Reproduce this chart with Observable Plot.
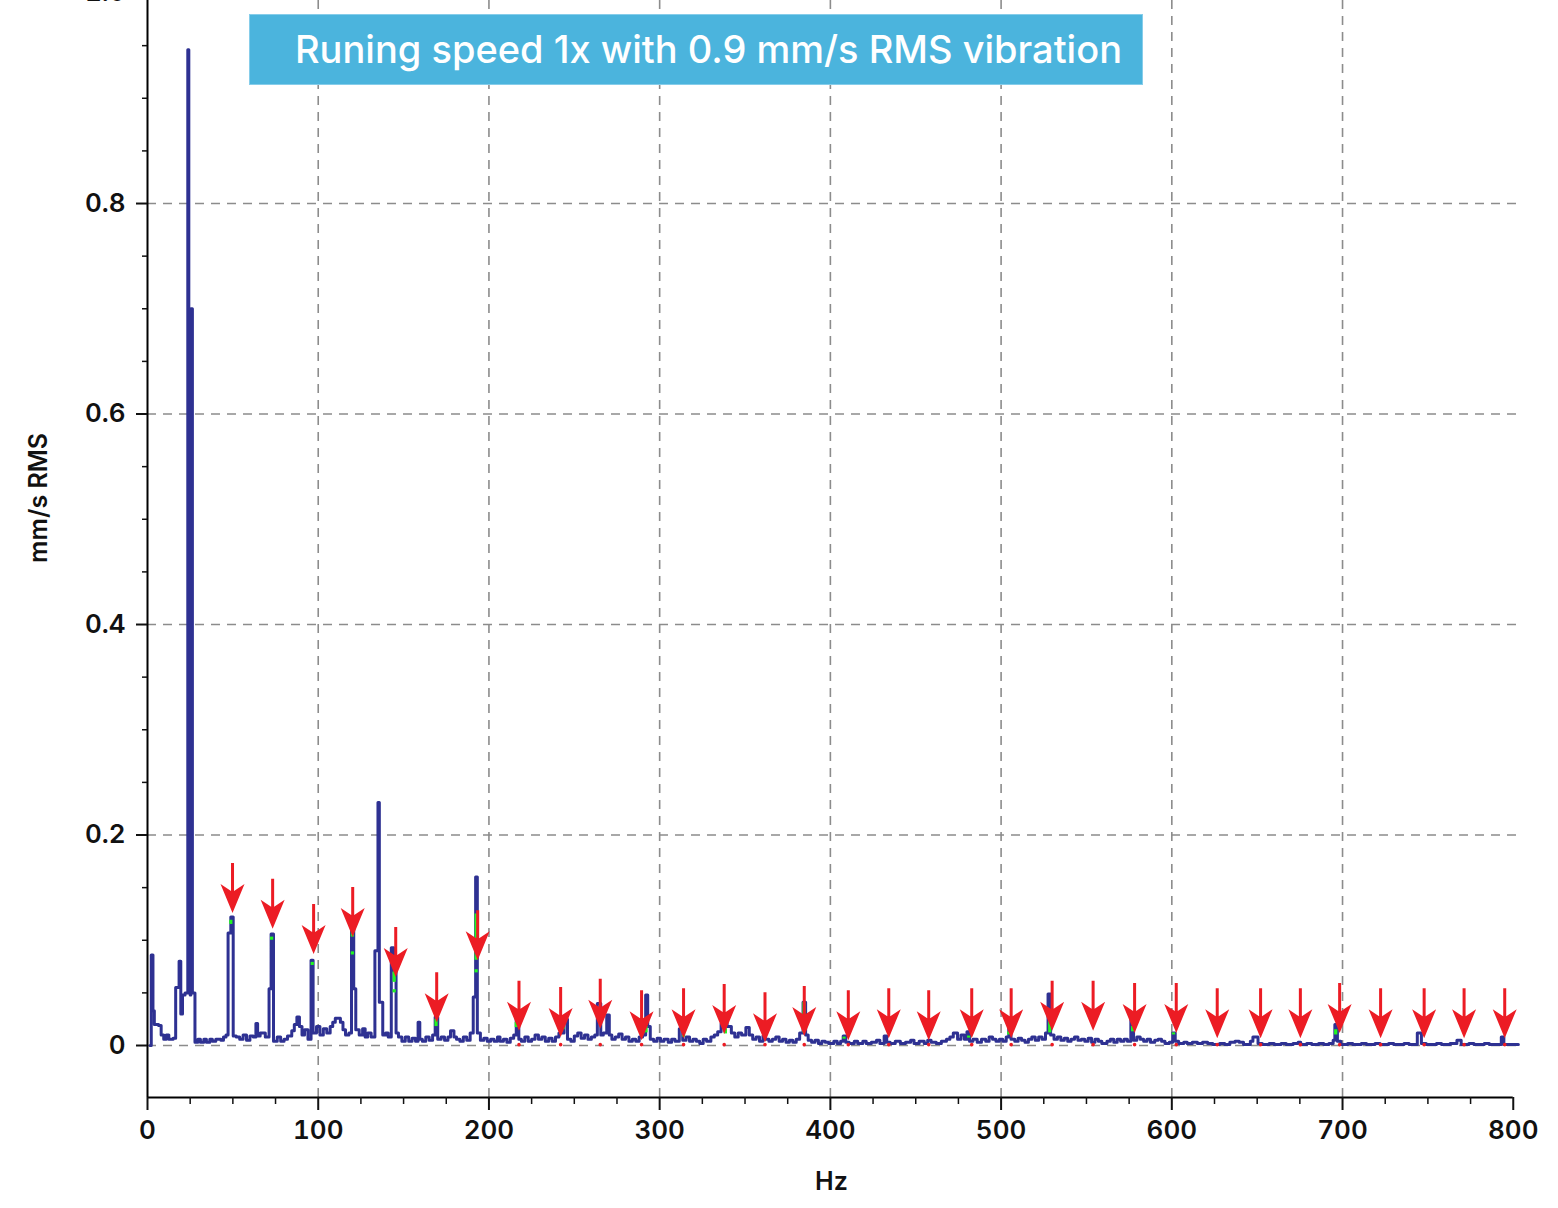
<!DOCTYPE html>
<html>
<head>
<meta charset="utf-8">
<script src="https://cdn.jsdelivr.net/npm/d3@7"></script>
<script src="https://cdn.jsdelivr.net/npm/@observablehq/plot@0.6"></script>
<style>
  body { margin: 0; background: #fff; }
  #wrap { position: relative; width: 1558px; height: 1208px; overflow: hidden; font-family: Inter, "Noto Sans", sans-serif; }
  #title { position: absolute; z-index: 2; left: 249px; top: 14px; width: 894px; height: 71px; box-sizing: border-box;
           background: #4BB4DD; border: 1px solid #86CDEA; color: #fff; font-size: 38px; font-weight: 500;
           line-height: 69px; padding-left: 45px; white-space: nowrap; }
</style>
</head>
<body>
<div id="wrap"><div id="title">Runing speed 1x with 0.9 mm/s RMS vibration</div></div>
<script>
// ---- data ----
// spectrum: [frequency Hz, amplitude mm/s RMS], step-after
const spectrum = [
  [1.5,0.000],[2.2,0.086],[3.2,0.033],[4.0,0.020],[6.5,0.019],[8.0,0.010],[9.5,0.006],[11,0.010],[12.5,0.006],[15,0.007],
  [16.5,0.055],[18.5,0.080],[19.5,0.030],[20.5,0.048],[22,0.050],[23.6,0.946],[24.2,0.700],[25.0,0.048],[25.4,0.700],[26.3,0.050],
  [27.8,0.003],[29.5,0.006],[31,0.003],[33,0.006],[34.5,0.003],[36.5,0.006],[38,0.004],[40,0.006],[43,0.005],[44.5,0.008],
  [46,0.010],[47.2,0.107],[48.8,0.122],[50.2,0.009],[52,0.008],[54,0.006],[56,0.010],[58,0.005],[60,0.009],[62,0.008],
  [63.5,0.021],[64.5,0.009],[66,0.012],[69,0.008],[71.2,0.054],[72.4,0.106],[73.8,0.004],[76,0.008],[78,0.004],[80,0.006],
  [82,0.009],[84.5,0.014],[86,0.020],[87.5,0.027],[89,0.018],[90.5,0.010],[92,0.015],[94,0.006],[95.8,0.081],[97,0.012],
  [99,0.018],[101,0.010],[103,0.016],[105,0.012],[107,0.018],[108.5,0.022],[110,0.026],[113,0.022],[114.5,0.015],[116,0.010],
  [118,0.012],[119.5,0.120],[120.8,0.054],[122,0.015],[124,0.010],[126,0.016],[127.5,0.008],[129,0.012],[131,0.008],[133.2,0.090],
  [135,0.231],[135.8,0.041],[137.8,0.010],[139.5,0.012],[141,0.008],[142.8,0.093],[144.2,0.071],[145.6,0.012],[147,0.008],[149,0.004],
  [151,0.008],[153,0.004],[155,0.007],[157,0.004],[158.5,0.022],[159.5,0.006],[161,0.004],[163,0.008],[165,0.005],[167,0.010],
  [168.5,0.027],[170,0.006],[172,0.008],[174,0.005],[176,0.008],[177.5,0.014],[179.5,0.008],[181,0.006],[183,0.004],[185,0.008],
  [187,0.005],[189,0.012],[190.8,0.046],[192.2,0.160],[193.2,0.012],[195,0.005],[197,0.007],[199,0.004],[201,0.006],[203,0.004],
  [205,0.008],[206.5,0.004],[208.5,0.006],[210.5,0.003],[212.5,0.007],[214.5,0.010],[216,0.033],[217.5,0.006],[219,0.004],[221,0.008],
  [223,0.004],[225,0.006],[227,0.010],[229,0.006],[231,0.008],[233,0.004],[235,0.007],[237,0.004],[239,0.008],[241,0.012],
  [244,0.025],[246,0.006],[248,0.004],[250,0.009],[252,0.012],[254,0.007],[256,0.010],[258,0.006],[260,0.008],[262,0.010],
  [263.5,0.040],[265.5,0.010],[267,0.012],[269,0.029],[270.5,0.010],[272,0.006],[274,0.008],[276,0.011],[278,0.006],[280,0.008],
  [282,0.004],[284,0.006],[286,0.004],[288,0.008],[290,0.010],[291.8,0.048],[293,0.018],[294.5,0.006],[296.5,0.004],[298.5,0.007],
  [300.5,0.004],[302.5,0.006],[305,0.003],[307,0.006],[309,0.004],[311.5,0.016],[313.5,0.005],[315.5,0.008],[317.5,0.004],[319.5,0.006],
  [321.5,0.004],[323.5,0.002],[325.5,0.006],[327.5,0.004],[330,0.008],[332,0.010],[334,0.013],[336,0.021],[339.5,0.018],[342,0.012],
  [344,0.008],[346,0.012],[348,0.010],[350.5,0.017],[352.5,0.010],[354.5,0.006],[356.5,0.008],[358.5,0.004],[360.5,0.009],[362,0.006],
  [364,0.004],[366,0.006],[368,0.008],[370,0.004],[372,0.006],[374,0.003],[376,0.005],[378,0.003],[380,0.006],[382,0.012],
  [384,0.041],[385.5,0.010],[387,0.005],[389,0.003],[391,0.005],[393,0.002],[395,0.004],[397,0.003],[399,0.002],[402,0.004],
  [404,0.002],[406,0.004],[407.5,0.009],[409,0.003],[411,0.002],[414,0.004],[416,0.002],[419,0.004],[421,0.002],[424,0.003],
  [427,0.005],[429,0.002],[431.5,0.009],[433,0.003],[435,0.002],[438,0.004],[441,0.002],[444,0.003],[447,0.005],[449,0.002],
  [452,0.004],[455,0.002],[457,0.005],[459,0.003],[462,0.002],[465,0.004],[468,0.006],[470,0.008],[472,0.012],[474.5,0.006],
  [476.5,0.010],[478.5,0.006],[480,0.013],[481.5,0.004],[483.5,0.006],[486,0.003],[488.5,0.006],[491,0.004],[493,0.008],[495,0.006],
  [497,0.004],[499,0.006],[501,0.004],[503,0.008],[504.5,0.019],[505.8,0.006],[508,0.004],[510,0.007],[512,0.005],[514,0.003],
  [516,0.006],[518,0.008],[520,0.005],[522,0.008],[524,0.006],[526,0.012],[527.5,0.049],[529,0.010],[531,0.006],[533,0.008],
  [535,0.005],[537,0.007],[539,0.004],[541,0.006],[543,0.008],[545,0.005],[547,0.006],[549,0.004],[551,0.007],[553,0.003],
  [555,0.006],[557,0.004],[559,0.002],[562,0.004],[564,0.006],[566,0.003],[568,0.006],[570,0.004],[572,0.006],[574,0.004],
  [576,0.027],[577.6,0.005],[579.5,0.008],[581.5,0.006],[583.5,0.004],[585.5,0.006],[587.5,0.003],[590,0.005],[592,0.006],[594,0.004],
  [596,0.002],[598.5,0.003],[600.5,0.012],[602,0.004],[604,0.002],[607,0.003],[609,0.002],[612,0.003],[615,0.002],[618,0.003],
  [621,0.002],[624,0.001],[628,0.002],[631,0.001],[634,0.003],[637,0.004],[639.5,0.003],[642,0.001],[646,0.004],[647.5,0.008],
  [650.5,0.002],[653,0.001],[657,0.002],[660,0.001],[664,0.002],[667,0.001],[671,0.002],[674,0.003],[675.5,0.001],[679,0.002],
  [682,0.001],[686,0.002],[689,0.001],[692,0.002],[694.5,0.005],[695.5,0.020],[697,0.004],[699,0.001],[703,0.002],[706,0.001],
  [711,0.002],[714,0.001],[719,0.002],[722,0.001],[727,0.002],[730,0.001],[736,0.002],[739,0.001],[743.8,0.012],[746.2,0.002],
  [749,0.001],[755,0.002],[758,0.001],[763,0.002],[767,0.005],[769.5,0.001],[774,0.002],[777,0.001],[783,0.002],[786,0.001],
  [793,0.008],[794.5,0.001],[803,0.001]
];

// harmonic markers (red arrows): frequency and value at the arrow tip
const arrowHz  = [49.8,73.3,97.3,120.2,145.4,169.4,193.4,217.6,242.0,265.2,289.4,314.0,337.8,361.7,384.7,410.5,
                  434.2,457.6,482.8,505.9,529.9,553.9,578.2,602.6,626.6,652.0,675.3,698.3,722.3,747.8,771.2,795.0];
const arrowTip = [0.126,0.111,0.087,0.103,0.065,0.022,0.081,0.014,0.008,0.016,0.005,0.007,0.011,0.003,0.009,0.005,
                  0.007,0.005,0.007,0.007,0.014,0.014,0.012,0.012,0.007,0.007,0.007,0.012,0.007,0.007,0.007,0.007];

// green highlight segments on the spectrum at harmonics
const greenHz   = [48.8,72.7,96.5,120.0,120.0,144.5,144.5,169.0,192.5,192.5,216.0,243.5,265.0,292.0,314.0,338.5,384.5,408.0,481.0,504.5,528.5,577.0,601.0,696.0];
const greenLow  = [0.115,0.100,0.076,0.103,0.086,0.060,0.050,0.018,0.081,0.069,0.017,0.015,0.022,0.012,0.008,0.011,0.012,0.006,0.007,0.010,0.012,0.013,0.010,0.010];
const greenHigh = [0.119,0.103,0.079,0.120,0.089,0.070,0.053,0.025,0.125,0.072,0.022,0.022,0.033,0.018,0.012,0.016,0.041,0.008,0.009,0.013,0.030,0.018,0.012,0.015];

const xMajor = [0,100,200,300,400,500,600,700,800];
const xMinor = [25,50,75,125,150,175,225,250,275,325,350,375,425,450,475,525,550,575,625,650,675,725,750,775];
const xGrid  = [100,200,300,400,500,600,700];
const yMajor = [0,0.2,0.4,0.6,0.8,1.0];
const yMinor = [0.05,0.1,0.15,0.25,0.3,0.35,0.45,0.5,0.55,0.65,0.7,0.75,0.85,0.9,0.95];
const yGrid  = [0,0.2,0.4,0.6,0.8];

const yMin = -0.0494, yTop = 0.9929;
const red = "#EC1C24", navy = "#2E3192", green = "#22F522", gridGray = "#8C8C8C";

const specData = spectrum.map(([f, a]) => ({f, a}));
const arrows = arrowHz.map((f, i) => ({f, tip: arrowTip[i]}));
const greens = greenHz.map((f, i) => ({f, lo: greenLow[i], hi: greenHigh[i]}));
const baseDots = arrows.slice(7).map(d => ({f: d.f, a: 0.0008}));

const arrowShape = {
  draw(context, l, r) {
    const head = 29, notch = 7, stem = 1.5;
    context.moveTo(0, -l);
    context.lineTo(-r, -l + head);
    context.lineTo(-stem, -l + head - notch);
    context.lineTo(-stem, 0);
    context.lineTo(stem, 0);
    context.lineTo(stem, -l + head - notch);
    context.lineTo(r, -l + head);
    context.closePath();
  }
};

const font = "Inter, 'Noto Sans', sans-serif";

const chart = Plot.plot({
  width: 1558,
  height: 1208,
  marginTop: 0,
  marginBottom: 111,
  marginLeft: 147,
  marginRight: 35,
  style: {fontFamily: font, color: "#111", background: "#fff", overflow: "visible"},
  x: {domain: [0, 806], axis: null},
  y: {domain: [yMin, yTop], axis: null},
  marks: [
    Plot.ruleY(yGrid, {x1: 0, x2: 806, stroke: gridGray, strokeWidth: 1.6, strokeDasharray: "9,7"}),
    Plot.ruleX(xGrid, {y1: yMin, y2: yTop, stroke: gridGray, strokeWidth: 1.6, strokeDasharray: "9,7"}),
    Plot.line(specData, {x: "f", y: "a", curve: "step-after", stroke: navy, strokeWidth: 3}),
    Plot.ruleX(greens, {x: "f", y1: "lo", y2: "hi", stroke: green, strokeWidth: 3.2}),
    Plot.dot(baseDots, {x: "f", y: "a", r: 1.8, fill: red, stroke: "none"}),
    Plot.vector(arrows, {x: "f", y: "tip", length: 50, rotate: 180, anchor: "end", shape: arrowShape, r: 12, fill: red, stroke: "none"}),
    Plot.ruleX([0], {y1: yMin, y2: yTop, stroke: "#000", strokeWidth: 2}),
    Plot.ruleY([yMin], {x1: 0, x2: 800, stroke: "#000", strokeWidth: 2}),
    Plot.axisY(yMajor, {anchor: "left", tickSize: 11, tickPadding: 11, strokeWidth: 2,
      tickFormat: d => d === 0 ? "0" : d.toFixed(1), fontSize: 26, fontWeight: 600, fontFamily: font, label: null}),
    Plot.axisY(yMinor, {anchor: "left", tickSize: 5, strokeWidth: 1.5, tickFormat: () => "", label: null}),
    Plot.axisX(xMajor, {anchor: "bottom", tickSize: 13, tickPadding: 10, strokeWidth: 2,
      tickFormat: d => String(d), fontSize: 26, fontWeight: 600, fontFamily: font, label: null}),
    Plot.axisX(xMinor, {anchor: "bottom", tickSize: 7, strokeWidth: 1.5, tickFormat: () => "", label: null}),
    Plot.text(["mm/s RMS"], {frameAnchor: "left", textAnchor: "middle", lineAnchor: "middle", dx: -109, dy: -51, rotate: -90,
      fontSize: 25, fontWeight: 600, fontFamily: font, fill: "#111"}),
    Plot.text(["Hz"], {frameAnchor: "bottom", textAnchor: "middle", lineAnchor: "middle", dx: -4, dy: 84,
      fontSize: 25, fontWeight: 600, fontFamily: font, fill: "#111"})
  ]
});

document.getElementById("wrap").appendChild(chart);
</script>
</body>
</html>
